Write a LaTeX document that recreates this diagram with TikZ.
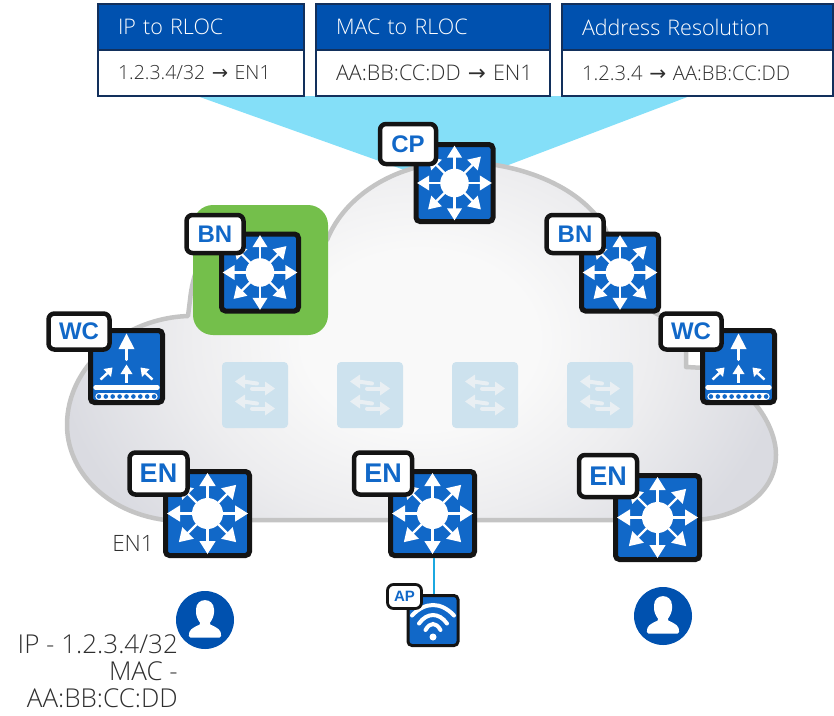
\documentclass[tikz,border=0pt]{standalone}
\usepackage{fontspec}
\setmainfont{Open Sans}[UprightFont=* Light]
\newfontfamily\tagfont{Liberation Sans}
\usetikzlibrary{arrows.meta,calc}
\definecolor{ciscoblue}{HTML}{1168C8}
\definecolor{headblue}{HTML}{0051AF}
\definecolor{navy}{HTML}{12305C}
\definecolor{cyanfan}{HTML}{84DFF8}
\definecolor{cloudedge}{HTML}{C4C4C4}
\definecolor{cloudgrey}{HTML}{DADBE1}
\definecolor{cloudlight}{HTML}{F9F9F9}
\definecolor{cloudmid}{HTML}{EDEDEF}
\definecolor{greenbox}{HTML}{74BF4B}
\definecolor{fadebox}{HTML}{CDE2EE}
\definecolor{fadearrow}{HTML}{E9EFF3}
\definecolor{txtgrey}{HTML}{2E2E2E}
\definecolor{aplink}{HTML}{1BA8E0}
\pgfdeclareradialshading{cloudshade}{\pgfpointorigin}{color(0bp)=(cloudlight); color(8bp)=(cloudlight); color(16bp)=(cloudmid); color(25bp)=(cloudgrey); color(50bp)=(cloudgrey)}
\tikzset{
  x=1pt,y=-1pt,
  devbox/.style={draw=black!92,line width=#1,fill=ciscoblue,rounded corners=4pt,inner sep=0pt},
  tagbox/.style={draw=black!92,line width=#1,fill=white,rounded corners=6pt,inner sep=0pt,text=ciscoblue},
  fadedbox/.style={fill=fadebox,rounded corners=4pt,inner sep=0pt,minimum width=66pt,minimum height=66pt},
  headbox/.style={draw=navy,line width=2pt,fill=headblue,inner sep=0pt,outer sep=0pt,text=white,anchor=north west,align=left,font=\fontsize{21.5}{21.5}\selectfont},
  bodybox/.style={draw=navy,line width=2pt,fill=white,inner sep=0pt,outer sep=0pt,text=txtgrey,anchor=north west,align=left},
  lighttext/.style={anchor=east,inner sep=0pt,text=txtgrey,font=\fontsize{26}{26}\selectfont},
}
% #1 name, #2 x, #3 y, #4 size
\newcommand{\layerthree}[4]{%
  \node[devbox=5pt,minimum width=#4pt-5pt,minimum height=#4pt-5pt] (#1) at (#2,#3) {};
  \begin{scope}[shift={(#2,#3)},scale=#4/89]
    \foreach \a in {0,45,...,315}{
      \draw[white,line width=2.4pt*#4/89] (0,0) -- (\a:30);
      \fill[white] (\a:40.5) -- ($(\a:27.5)+(\a+90:8.2)$) -- ($(\a:27.5)+(\a-90:8.2)$) -- cycle;
    }
    \fill[white] (0,0) circle (15.5);
  \end{scope}}
% #1 name, #2 x, #3 y
\newcommand{\wirelessctl}[3]{%
  \node[devbox=5pt,minimum width=72pt,minimum height=72pt] (#1) at (#2,#3) {};
  \begin{scope}[shift={(#2,#3)}]
    \draw[white,line width=3.4pt,line cap=round] (0,-7) -- (0,-20);
    \fill[white] (0,-33) -- (-8,-17.5) -- (8,-17.5) -- cycle;
    \draw[white,line width=2.2pt] (0,16) -- (0,5);
    \fill[white] (0,-2) -- (-6,7.5) -- (6,7.5) -- cycle;
    \draw[white,line width=2.4pt] (-26,13) -- (-19,6.5);
    \fill[white] (-14,1) -- (-23,2.5) -- (-15.5,10.5) -- cycle;
    \draw[white,line width=2.4pt] (26,13) -- (19,6.5);
    \fill[white] (14,1) -- (23,2.5) -- (15.5,10.5) -- cycle;
    \draw[white,line width=4.4pt,line cap=round] (-31,21) -- (31,21);
    \draw[white,line width=7.4pt,line cap=round] (-27.5,30) -- (27.5,30);
    \foreach \i in {-4,...,4}{\fill[ciscoblue] (\i*6.9,30) circle (2.3);}
  \end{scope}}
% #1 name, #2 x, #3 y
\newcommand{\fadedswitch}[3]{%
  \node[fadedbox] (#1) at (#2,#3) {};
  \begin{scope}[shift={(#2,#3)}]
    \foreach \yy in {-10,10}{
      \draw[fadearrow,line width=4pt,line cap=round] (-12,\yy-3.5) -- (2,\yy-1.5);
      \fill[fadearrow] (-20,\yy-3.5) -- (-10,\yy-10.5) -- (-10,\yy+3.5) -- cycle;
      \draw[fadearrow,line width=4pt,line cap=round] (-3,\yy+3.5) -- (12,\yy+3.5);
      \fill[fadearrow] (20,\yy+3.5) -- (10,\yy-3.5) -- (10,\yy+10.5) -- cycle;
    }
  \end{scope}}
% #1 name, #2 x, #3 y, #4 width, #5 height, #6 text, #7 font size
\newcommand{\devtag}[7]{%
  \node[tagbox=4.5pt,minimum width=#4pt,minimum height=#5pt,font=\tagfont\bfseries\fontsize{#7}{#7}\selectfont] (#1) at (#2,#3) {#6};}
% #1 name, #2 x, #3 y
\newcommand{\personicon}[3]{%
  \node[circle,fill=headblue,minimum size=58pt,inner sep=0pt] (#1) at (#2,#3) {};
  \begin{scope}[shift={(#2,#3)}]
    \fill[white,rounded corners=1.5pt] (-16,17.5) .. controls (-16.5,10) and (-13,8) .. (-4,4)
      .. controls (-7,0) and (-9,-4) .. (-9,-9)
      .. controls (-9,-23) and (9,-23) .. (9,-9)
      .. controls (9,-4) and (7,0) .. (4,4)
      .. controls (13,8) and (16.5,10) .. (16,17.5) -- cycle;
  \end{scope}}
\newcommand{\cloudoutline}{(165,520) .. controls (105,512) and (67,470) .. (67,425)
  .. controls (67,365) and (125,318) .. (188,316)
  -- (190,300) .. controls (195,250) and (225,215) .. (262,212)
  .. controls (290,210) and (312,218) .. (327,240)
  .. controls (345,195) and (395,165) .. (450,162)
  .. controls (515,160) and (580,185) .. (605,228)
  .. controls (620,270) and (640,300) .. (655,313)
  .. controls (672,320) and (684,335) .. (686,348)
  -- (686,367) -- (705,368)
  .. controls (750,385) and (776,425) .. (776,455)
  .. controls (776,495) and (735,520) .. (690,520)
  -- cycle}
\begin{document}
\begin{tikzpicture}
\useasboundingbox (0,0) rectangle (834,715);
% fan
\fill[cyanfan] (197,96) -- (690,96) -- (490,172) -- (410,172) -- cycle;
% cloud
\begin{scope}
  \clip \cloudoutline;
  \shade[shading=cloudshade] (55,60) rectangle (785,620);
\end{scope}
\draw[cloudedge,line width=4.5pt,line join=round] \cloudoutline;
% green highlight
\fill[greenbox,rounded corners=20pt] (193,205) rectangle (328,335);
% faded switches
\fadedswitch{fs1}{255}{395}
\fadedswitch{fs2}{370}{395}
\fadedswitch{fs3}{485}{395}
\fadedswitch{fs4}{600}{395}
% devices
\layerthree{cp}{454.5}{183}{82}
\devtag{cptag}{408}{144}{56}{40}{CP}{24}
\layerthree{bnl}{260}{272.5}{82}
\devtag{bnltag}{215}{234}{57}{38}{BN}{24}
\layerthree{bnr}{620}{272.5}{82}
\devtag{bnrtag}{575}{234}{57}{38}{BN}{24}
\wirelessctl{wcl}{126.5}{366.5}
\devtag{wcltag}{79}{331.5}{61}{36}{WC}{24}
\wirelessctl{wcr}{738.5}{366.5}
\devtag{wcrtag}{691}{331.5}{61}{36}{WC}{24}
\layerthree{enl}{207.5}{513.5}{89}
\devtag{enltag}{158.5}{473.5}{58}{42}{EN}{27}
% AP link below the devices
\node[devbox=3pt,minimum width=50pt,minimum height=50pt] (ap) at (433,620.5) {};
\layerthree{enm}{432.5}{513.5}{89}
\draw[aplink,line width=2pt] (enm.south -| 434,0) -- (ap.north -| 434,0);
\devtag{enmtag}{383}{473.5}{58}{42}{EN}{27}
\layerthree{enr}{657.5}{517.5}{89}
\devtag{enrtag}{608}{476}{58}{42}{EN}{27}
% access point symbol
\begin{scope}[shift={(433,620.5)}]
  \draw[white,line width=4pt,line cap=round] (-21,-5) .. controls (-8,-19) and (8,-19) .. (21,-5);
  \draw[white,line width=4pt,line cap=round] (-14,3) .. controls (-6,-8.3) and (6,-8.3) .. (14,3);
  \draw[white,line width=4pt,line cap=round] (-7.5,9.5) .. controls (-3,1.5) and (3,1.5) .. (7.5,9.5);
  \fill[white] (0,16.5) circle (3.5);
\end{scope}
\node[tagbox=2.8pt,minimum width=34pt,minimum height=24pt,font=\tagfont\bfseries\fontsize{15}{15}\selectfont] (aptag) at (404.5,596.5) {AP};
% people
\personicon{userl}{205}{620}
\personicon{userr}{663}{616}
% tables
\node[headbox,minimum height=46pt,text width=206pt] (h1) at (98,4) {\hspace*{20pt}\raisebox{-4pt}{IP to RLOC}};
\node[bodybox,minimum height=46pt,text width=206pt,font=\fontsize{19.5}{19.5}\selectfont] (b1) at (h1.south west) {\hspace*{20pt}1.2.3.4/32 {\fontspec{DejaVu Sans}→} EN1};
\node[headbox,minimum height=46pt,text width=234pt] (h2) at (316,4) {\hspace*{20pt}\raisebox{-4pt}{MAC to RLOC}};
\node[bodybox,minimum height=46pt,text width=234pt,font=\fontsize{21.5}{21.5}\selectfont] (b2) at (h2.south west) {\hspace*{20pt}AA:BB:CC:DD {\fontspec{DejaVu Sans}→} EN1};
\node[headbox,minimum height=46pt,text width=271pt] (h3) at (562,4) {\hspace*{20pt}\raisebox{-4pt}{Address Resolution}};
\node[bodybox,minimum height=46pt,text width=271pt,font=\fontsize{20.2}{20.2}\selectfont] (b3) at (h3.south west) {\hspace*{20pt}1.2.3.4 {\fontspec{DejaVu Sans}→} AA:BB:CC:DD};
% labels
\node[lighttext,font=\fontsize{22.5}{22.5}\selectfont] (en1) at (154,543) {EN1};
\node[lighttext] (ip) at (178,644) {IP - 1.2.3.4/32};
\node[lighttext] (mac) at (178,671.5) {MAC -};
\node[lighttext] (addr) at (178,698.5) {AA:BB:CC:DD};
\end{tikzpicture}
\end{document}
